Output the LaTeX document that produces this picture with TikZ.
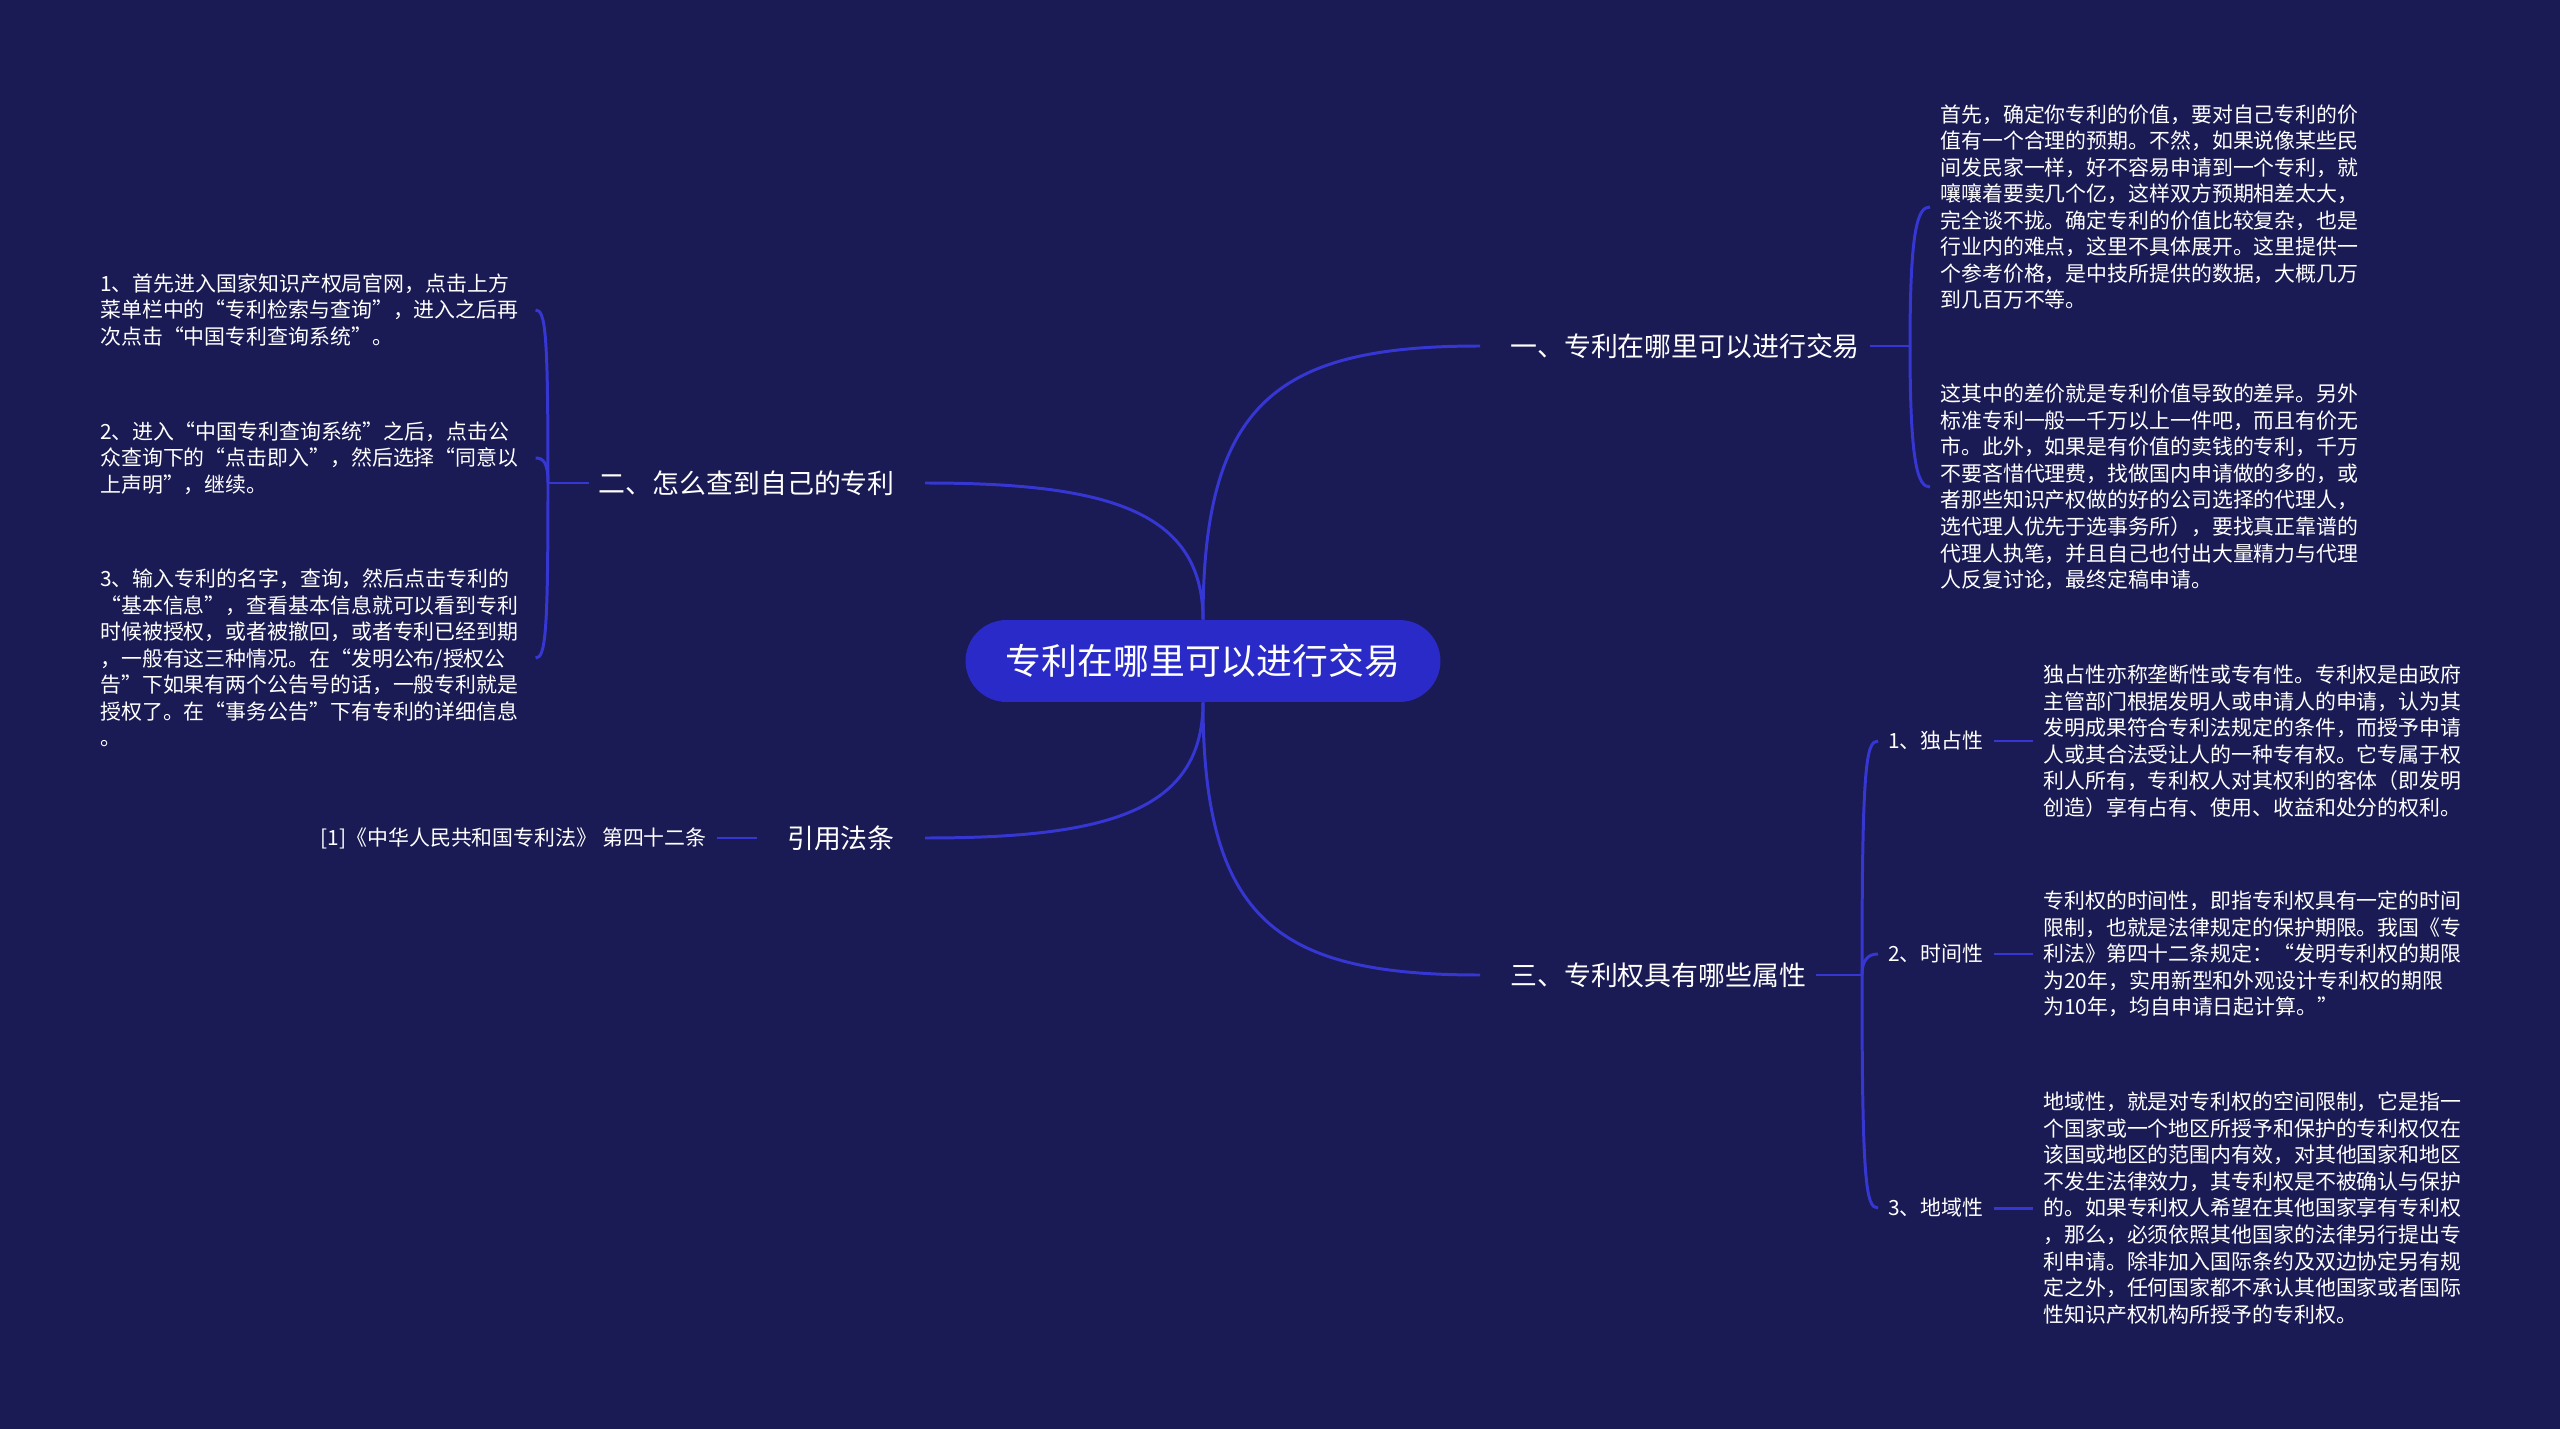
\documentclass[tikz,border=0pt]{standalone}
\usepackage{fontspec}
\setmainfont{Noto Sans CJK SC}
\usetikzlibrary{positioning}
\definecolor{bgnavy}{HTML}{1A1A54}
\definecolor{rootblue}{HTML}{2A2AC8}
\definecolor{linkblue}{HTML}{3636D2}
\tikzset{
  root/.style={fill=rootblue,text=white,rounded corners=0.82cm,minimum width=9.5cm,
    minimum height=1.64cm,font=\fontsize{20.4}{24}\selectfont},
  branch/.style={text=white,inner xsep=0.2cm,inner ysep=0pt,font=\fontsize{15.3}{18}\selectfont},
  leaf/.style={text=white,inner xsep=0.2cm,inner ysep=0pt,align=left,
    font=\fontsize{11.9}{15.1}\selectfont},
  link/.style={draw=linkblue,line width=1.7pt}
}
\begin{document}
\begin{tikzpicture}[x=0.02cm,y=-0.02cm]
\fill[bgnavy] (0,0) rectangle (2560,1429);
\useasboundingbox (0,0) rectangle (2560,1429);

\node[root] (c) at (1203,661) {专利在哪里可以进行交易};

\node[branch,anchor=west] (b1) at (1500,346) {一、专利在哪里可以进行交易};
\node[branch,anchor=east] (b2) at (905,483) {二、怎么查到自己的专利};
\node[branch,anchor=west] (b3) at (1500,975) {三、专利权具有哪些属性};
\node[branch,anchor=east] (b4) at (905,838) {引用法条};

% first branch
\node[leaf,anchor=west] (t11) at (1930,207) {首先，确定你专利的价值，要对自己专利的价\\
值有一个合理的预期。不然，如果说像某些民\\
间发民家一样，好不容易申请到一个专利，就\\
嚷嚷着要卖几个亿，这样双方预期相差太大，\\
完全谈不拢。确定专利的价值比较复杂，也是\\
行业内的难点，这里不具体展开。这里提供一\\
个参考价格，是中技所提供的数据，大概几万\\
到几百万不等。};
\node[leaf,anchor=west] (t12) at (1930,487) {这其中的差价就是专利价值导致的差异。另外\\
标准专利一般一千万以上一件吧，而且有价无\\
市。此外，如果是有价值的卖钱的专利，千万\\
不要吝惜代理费，找做国内申请做的多的，或\\
者那些知识产权做的好的公司选择的代理人，\\
选代理人优先于选事务所），要找真正靠谱的\\
代理人执笔，并且自己也付出大量精力与代理\\
人反复讨论，最终定稿申请。};

% second branch
\node[leaf,anchor=west,text width=8.5cm] (l1) at (90,310) {1、首先进入国家知识产权局官网，点击上方\\
菜单栏中的“专利检索与查询”，进入之后再\\
次点击“中国专利查询系统”。};
\node[leaf,anchor=west,text width=8.5cm] (l2) at (90,458) {2、进入“中国专利查询系统”之后，点击公\\
众查询下的“点击即入”，然后选择“同意以\\
上声明”，继续。};
\node[leaf,anchor=west,text width=8.5cm] (l3) at (90,658) {3、输入专利的名字，查询，然后点击专利的\\
“基本信息”，查看基本信息就可以看到专利\\
时候被授权，或者被撤回，或者专利已经到期\\
，一般有这三种情况。在“发明公布/授权公\\
告”下如果有两个公告号的话，一般专利就是\\
授权了。在“事务公告”下有专利的详细信息\\
。};

% third branch
\node[leaf,anchor=west] (s1) at (1878,741) {1、独占性};
\node[leaf,anchor=west] (s2) at (1878,954) {2、时间性};
\node[leaf,anchor=west] (s3) at (1878,1208) {3、地域性};
\node[leaf,anchor=west] (t31) at (2033,741) {独占性亦称垄断性或专有性。专利权是由政府\\
主管部门根据发明人或申请人的申请，认为其\\
发明成果符合专利法规定的条件，而授予申请\\
人或其合法受让人的一种专有权。它专属于权\\
利人所有，专利权人对其权利的客体（即发明\\
创造）享有占有、使用、收益和处分的权利。};
\node[leaf,anchor=west] (t32) at (2033,954) {专利权的时间性，即指专利权具有一定的时间\\
限制，也就是法律规定的保护期限。我国《专\\
利法》第四十二条规定：“发明专利权的期限\\
为20年，实用新型和外观设计专利权的期限\\
为10年，均自申请日起计算。”};
\node[leaf,anchor=west] (t33) at (2033,1208) {地域性，就是对专利权的空间限制，它是指一\\
个国家或一个地区所授予和保护的专利权仅在\\
该国或地区的范围内有效，对其他国家和地区\\
不发生法律效力，其专利权是不被确认与保护\\
的。如果专利权人希望在其他国家享有专利权\\
，那么，必须依照其他国家的法律另行提出专\\
利申请。除非加入国际条约及双边协定另有规\\
定之外，任何国家都不承认其他国家或者国际\\
性知识产权机构所授予的专利权。};

% citation
\node[leaf,anchor=east] (r1) at (717,838) {[1]《中华人民共和国专利法》 第四十二条};

\coordinate (k1) at (1910,346);
\coordinate (k2) at (548,483);
\coordinate (k3) at (1862,975);

% root links
\draw[link,shorten >=0.4cm] (c.north) .. controls +(0,-220) and +(-220,0) .. (b1.west);
\draw[link,shorten >=0.4cm] (c.north) .. controls +(0,-110) and +(200,0) .. (b2.east);
\draw[link,shorten >=0.4cm] (c.south) .. controls +(0,220) and +(-220,0) .. (b3.west);
\draw[link,shorten >=0.4cm] (c.south) .. controls +(0,110) and +(200,0) .. (b4.east);

% brackets
\draw[link] (b1.east) -- (k1);
\draw[link] (k1) .. controls +(0,-120) and +(-12,0) .. (t11.west);
\draw[link] (k1) .. controls +(0,120) and +(-12,0) .. (t12.west);

\draw[link] (b2.west) -- (k2);
\draw[link] (k2) .. controls +(0,-150) and +(10,0) .. (l1.east);
\draw[link] (k2) .. controls +(0,-20) and +(8,0) .. (l2.east);
\draw[link] (k2) .. controls +(0,150) and +(10,0) .. (l3.east);

\draw[link] (b3.east) -- (k3);
\draw[link] (k3) .. controls +(0,-210) and +(-12,0) .. (s1.west);
\draw[link] (k3) .. controls +(0,-15) and +(-10,0) .. (s2.west);
\draw[link] (k3) .. controls +(0,210) and +(-12,0) .. (s3.west);

\draw[link] (s1.east) -- (t31.west);
\draw[link] (s2.east) -- (t32.west);
\draw[link] (s3.east) -- (t33.west);

\draw[link,shorten >=0.4cm] (r1.east) -- (b4.west);
\end{tikzpicture}
\end{document}
